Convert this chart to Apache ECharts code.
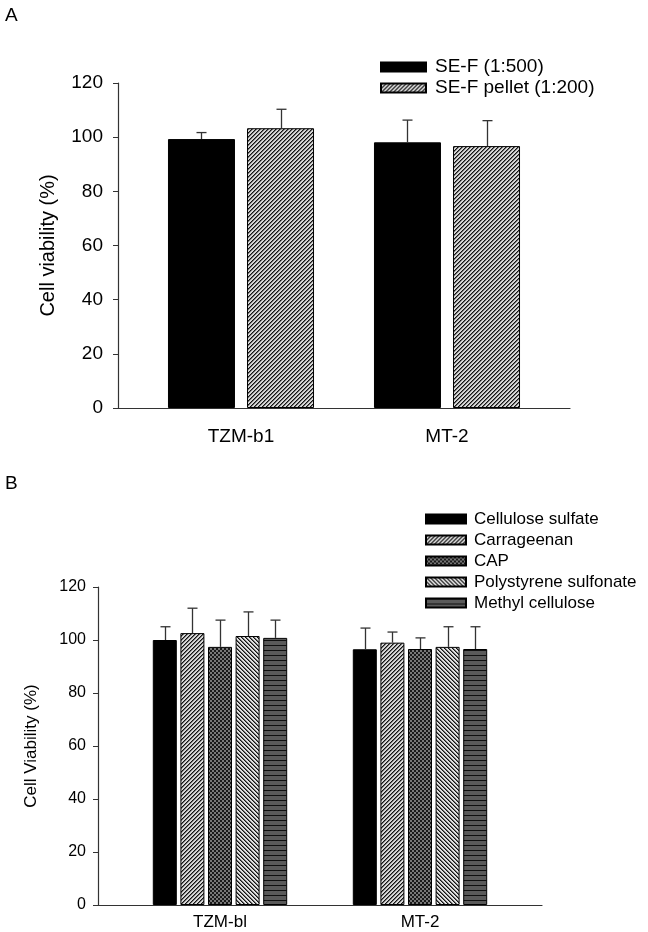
<!DOCTYPE html>
<html>
<head>
<meta charset="utf-8">
<script src="https://cdn.jsdelivr.net/npm/echarts@6/dist/echarts.min.js"></script>
<style>
html,body{margin:0;padding:0;background:#fff;}
#chart{width:648px;height:932px;}
</style>
</head>
<body>
<div id="chart"></div>
<script>
// ---------- DATA ----------
const catsA = ['TZM-b1', 'MT-2'];
const seriesNamesA = ['SE-F (1:500)', 'SE-F pellet (1:200)'];
const meanA_SEF = [99.3, 98.1];
const errA_SEF = [2.4, 8.2];
const meanA_pellet = [103.3, 96.7];
const errA_pellet = [7.0, 9.4];

const catsB = ['TZM-bl', 'MT-2'];
const seriesNamesB = ['Cellulose sulfate', 'Carrageenan', 'CAP', 'Polystyrene sulfonate', 'Methyl cellulose'];
const meanB_CS = [100.0, 96.5];
const errB_CS = [5.0, 8.0];
const meanB_Carr = [102.6, 99.0];
const errB_Carr = [9.4, 4.0];
const meanB_CAP = [97.4, 96.6];
const errB_CAP = [10.1, 4.2];
const meanB_PS = [101.5, 97.4];
const errB_PS = [9.1, 7.6];
const meanB_MC = [100.8, 96.6];
const errB_MC = [6.7, 8.4];

const yTicks = [0, 20, 40, 60, 80, 100, 120];

// ---------- PATTERNS ----------
function makePattern(w, h, fn) {
  const c = document.createElement('canvas');
  c.width = w; c.height = h;
  const ctx = c.getContext('2d');
  const img = ctx.createImageData(w, h);
  for (let y = 0; y < h; y++) for (let x = 0; x < w; x++) {
    const v = fn(x, y);
    const i = (y * w + x) * 4;
    img.data[i] = v; img.data[i + 1] = v; img.data[i + 2] = v; img.data[i + 3] = 255;
  }
  ctx.putImageData(img, 0, 0);
  return { image: c, repeat: 'repeat' };
}
const patSlash = makePattern(4, 4, (x, y) => { const k = (x + y) % 4; return k === 0 ? 20 : (k === 1 ? 110 : 215); });
const patBack = makePattern(4, 4, (x, y) => { const k = ((x - y) % 4 + 4) % 4; return k === 0 ? 20 : (k === 1 ? 110 : 225); });
const patCheck = makePattern(4, 4, (x, y) => ((Math.floor(x / 2) + Math.floor(y / 2)) % 2 === 0 ? 25 : 120));
const patHoriz = makePattern(4, 5, (x, y) => (y === 0 ? 15 : 90));

const FONT = '"Liberation Sans", Arial, Helvetica, sans-serif';
const AX = '#333';

// ---------- LAYOUT ----------
const bwA = 67, gapA = 0.18;
const bwB = 24, gapB = 0.15;

function errSeries(name, cats, means, errs, idx, n, bw, gap, axisIdx) {
  const pitch = bw * (1 + gap);
  const off = (idx - (n - 1) / 2) * pitch;
  return {
    type: 'custom', name: name + '_err', xAxisIndex: axisIdx, yAxisIndex: axisIdx, z: 5,
    silent: true,
    data: means.map((m, i) => [i, m, errs[i]]),
    renderItem: function (params, api) {
      const base = api.coord([api.value(0), api.value(1)]);
      const top = api.coord([api.value(0), api.value(1) + api.value(2)]);
      const cx = Math.round(base[0] + off) + 0.5;
      const st = { stroke: AX, lineWidth: 1.3 };
      return {
        type: 'group', children: [
          { type: 'line', shape: { x1: cx, y1: base[1], x2: cx, y2: top[1] }, style: st },
          { type: 'line', shape: { x1: cx - 5, y1: top[1], x2: cx + 5, y2: top[1] }, style: st }
        ]
      };
    }
  };
}

function barSeries(name, means, color, axisIdx, bw, gap) {
  return {
    type: 'bar', name: name, xAxisIndex: axisIdx, yAxisIndex: axisIdx,
    data: means, barWidth: bw, barGap: (gap * 100) + '%', z: 2,
    itemStyle: { color: color, borderColor: '#000', borderWidth: 1 },
    emphasis: { disabled: true }
  };
}

const yAxisVisible = (fs, margin, name, nameGap, nameFs) => ({
  type: 'value', min: 0, max: 120, interval: 20,
  axisLine: { show: true, lineStyle: { color: AX, width: 1.2 } },
  axisTick: { show: true, length: 5, lineStyle: { color: AX } },
  axisLabel: { color: '#000', fontSize: fs, fontFamily: FONT, margin: margin },
  splitLine: { show: false },
  name: name, nameLocation: 'middle', nameRotate: 90, nameGap: nameGap,
  nameTextStyle: { color: '#000', fontSize: nameFs, fontFamily: FONT }
});
const yAxisHidden = () => ({ type: 'value', min: 0, max: 120, interval: 20, show: false });
const xAxisLine = () => ({
  type: 'value', min: 0, max: 1,
  axisLine: { show: true, onZero: false, lineStyle: { color: AX, width: 1.2 } },
  axisTick: { show: false }, axisLabel: { show: false }, splitLine: { show: false }
});
const xAxisCat = (cats, fs, margin) => ({
  type: 'category', data: cats,
  axisLine: { show: false }, axisTick: { show: false },
  axisLabel: { color: '#000', fontSize: fs, fontFamily: FONT, margin: margin }
});

const colorsA = ['#000', patSlash];
const colorsB = ['#000', patSlash, patCheck, patBack, patHoriz];
const meansB = [meanB_CS, meanB_Carr, meanB_CAP, meanB_PS, meanB_MC];
const errsB = [errB_CS, errB_Carr, errB_CAP, errB_PS, errB_MC];

const series = [];
series.push(barSeries(seriesNamesA[0], meanA_SEF, colorsA[0], 1, bwA, gapA));
series.push(barSeries(seriesNamesA[1], meanA_pellet, colorsA[1], 1, bwA, gapA));
series.push(errSeries(seriesNamesA[0], catsA, meanA_SEF, errA_SEF, 0, 2, bwA, gapA, 1));
series.push(errSeries(seriesNamesA[1], catsA, meanA_pellet, errA_pellet, 1, 2, bwA, gapA, 1));
seriesNamesB.forEach((n, i) => series.push(barSeries(n, meansB[i], colorsB[i], 3, bwB, gapB)));
seriesNamesB.forEach((n, i) => series.push(errSeries(n, catsB, meansB[i], errsB[i], i, 5, bwB, gapB, 3)));

const option = {
  animation: false,
  backgroundColor: '#fff',
  textStyle: { fontFamily: FONT },
  grid: [
    { left: 118, top: 83, width: 452, height: 325 },
    { left: 138, top: 83, width: 412, height: 325 },
    { left: 98, top: 587, width: 444, height: 318 },
    { left: 120, top: 587, width: 400, height: 318 }
  ],
  xAxis: [
    Object.assign(xAxisLine(), { gridIndex: 0 }),
    Object.assign(xAxisCat(catsA, 19, 19), { gridIndex: 1 }),
    Object.assign(xAxisLine(), { gridIndex: 2 }),
    Object.assign(xAxisCat(catsB, 17, 9), { gridIndex: 3 })
  ],
  yAxis: [
    Object.assign(yAxisVisible(19, 15, 'Cell viability (%)', 60, 20), { gridIndex: 0 }),
    Object.assign(yAxisHidden(), { gridIndex: 1 }),
    Object.assign(yAxisVisible(16, 12, 'Cell Viability (%)', 58, 17), { gridIndex: 2 }),
    Object.assign(yAxisHidden(), { gridIndex: 3 })
  ],
  legend: [
    {
      data: seriesNamesA, orient: 'vertical', left: 380, top: 57,
      itemWidth: 45, itemHeight: 9, itemGap: 1, selectedMode: false,
      textStyle: { color: '#000', fontSize: 19, fontFamily: FONT, lineHeight: 20, padding: [0, 0, 0, 4] },
      icon: 'rect', padding: 0
    },
    {
      data: seriesNamesB, orient: 'vertical', left: 425, top: 510,
      itemWidth: 40, itemHeight: 9, itemGap: 3, selectedMode: false,
      textStyle: { color: '#000', fontSize: 17, fontFamily: FONT, lineHeight: 18, padding: [0, 0, 0, 3] },
      icon: 'rect', padding: 0
    }
  ],
  graphic: [
    { type: 'text', left: 5, top: 6, style: { text: 'A', fontSize: 19, fontFamily: FONT, fill: '#000' } },
    { type: 'text', left: 5, top: 474, style: { text: 'B', fontSize: 19, fontFamily: FONT, fill: '#000' } }
  ],
  series: series
};

const chart = echarts.init(document.getElementById('chart'), null, { renderer: 'canvas' });
chart.setOption(option);
</script>
</body>
</html>
